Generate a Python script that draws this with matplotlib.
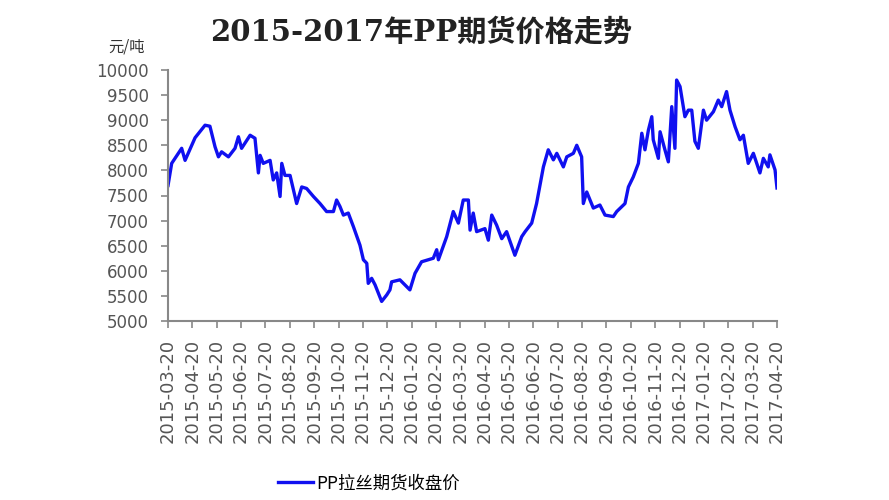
import matplotlib
matplotlib.use('Agg')
import matplotlib.pyplot as plt

plt.rcParams['font.family'] = ['Noto Sans CJK SC', 'DejaVu Sans']

# month offset from 2015-03-20, closing price (yuan/ton)
months = [0.00, 0.15, 0.56, 0.70, 1.11, 1.52, 1.72, 1.93, 2.07, 2.20,
          2.48, 2.75, 2.89, 3.02, 3.37, 3.57, 3.71, 3.78, 3.91, 4.19,
          4.32, 4.46, 4.60, 4.67, 4.80, 5.01, 5.28, 5.49, 5.69, 5.97,
          6.24, 6.51, 6.79, 6.92, 7.06, 7.20, 7.40, 7.61, 7.88, 8.02,
          8.16, 8.22, 8.36, 8.50, 8.77, 8.98, 9.11, 9.18, 9.52, 9.93,
          10.14, 10.41, 10.89, 11.03, 11.10, 11.44, 11.71, 11.92, 12.12, 12.33,
          12.40, 12.53, 12.67, 13.01, 13.15, 13.29, 13.49, 13.70, 13.90, 14.24,
          14.52, 14.66, 14.93, 15.13, 15.41, 15.61, 15.82, 15.96, 16.23, 16.37,
          16.64, 16.78, 16.98, 17.05, 17.19, 17.46, 17.73, 17.94, 18.28, 18.42,
          18.76, 18.90, 19.10, 19.31, 19.45, 19.58, 19.72, 19.86, 19.92, 20.13,
          20.20, 20.40, 20.54, 20.68, 20.81, 20.88, 21.02, 21.22, 21.36, 21.50,
          21.63, 21.77, 21.98, 22.11, 22.39, 22.59, 22.73, 22.93, 23.07, 23.28,
          23.48, 23.62, 23.82, 24.03, 24.30, 24.44, 24.64, 24.71, 24.92, 25.00]
price = [7700, 8140, 8440, 8200, 8650, 8900, 8880, 8470, 8270, 8370,
         8270, 8440, 8670, 8440, 8700, 8640, 7950, 8300, 8140, 8200,
         7810, 7950, 7480, 8140, 7900, 7900, 7340, 7670, 7640, 7480,
         7340, 7180, 7180, 7410, 7280, 7110, 7150, 6880, 6510, 6220,
         6150, 5750, 5850, 5720, 5390, 5520, 5620, 5780, 5820, 5620,
         5950, 6180, 6250, 6420, 6220, 6680, 7180, 6950, 7410, 7410,
         6810, 7150, 6780, 6840, 6610, 7110, 6910, 6640, 6780, 6310,
         6680, 6780, 6950, 7340, 8070, 8410, 8210, 8340, 8070, 8270,
         8340, 8500, 8270, 7340, 7570, 7250, 7310, 7110, 7080, 7180,
         7340, 7670, 7870, 8140, 8740, 8410, 8800, 9070, 8610, 8240,
         8770, 8410, 8170, 9270, 8440, 9800, 9670, 9070, 9200, 9200,
         8580, 8440, 9200, 9000, 9170, 9400, 9270, 9570, 9200, 8870,
         8610, 8700, 8140, 8340, 7950, 8240, 8070, 8310, 8010, 7650]

tick_labels = ['2015-03-20', '2015-04-20', '2015-05-20', '2015-06-20', '2015-07-20',
               '2015-08-20', '2015-09-20', '2015-10-20', '2015-11-20', '2015-12-20',
               '2016-01-20', '2016-02-20', '2016-03-20', '2016-04-20', '2016-05-20',
               '2016-06-20', '2016-07-20', '2016-08-20', '2016-09-20', '2016-10-20',
               '2016-11-20', '2016-12-20', '2017-01-20', '2017-02-20', '2017-03-20',
               '2017-04-20']
yticks = list(range(5000, 10001, 500))

fig = plt.figure(figsize=(8.89, 5.0), dpi=100)
ax = fig.add_axes([0.189, 0.358, 0.685, 0.502])

line, = ax.plot(months, price, color='#1010f0', linewidth=2.4, label='PP拉丝期货收盘价')

ax.set_xlim(0, 25)
ax.set_ylim(5000, 10000)
ax.set_xticks(range(len(tick_labels)))
ax.set_xticklabels(tick_labels, rotation=90, fontsize=13, color='#555555',
                   family='DejaVu Sans')
ax.set_yticks(yticks)
ax.set_yticklabels([str(v) for v in yticks], fontsize=12, color='#555555',
                   family='DejaVu Sans')

for s in ['top', 'right']:
    ax.spines[s].set_visible(False)
for s in ['left', 'bottom']:
    ax.spines[s].set_color('#888888')
    ax.spines[s].set_linewidth(1.5)
ax.tick_params(axis='both', direction='out', length=5, width=1.2, color='#888888')
ax.tick_params(axis='x', pad=8)
ax.tick_params(axis='y', pad=9)

fig.text(0.474, 0.935, '2015-2017年PP期货价格走势', ha='center', va='center',
         fontsize=21, fontweight='bold', color='#222222',
         family=['DejaVu Serif', 'Noto Sans CJK SC'])
fig.text(0.142, 0.905, '元/吨', ha='center', va='center', fontsize=11, color='#333333')

fig.legend(handles=[line], loc='center', bbox_to_anchor=(0.415, 0.033), frameon=False,
           handlelength=2.0, handletextpad=0.2,
           prop={'family': ['Noto Sans CJK SC', 'DejaVu Sans'], 'size': 12.5})

plt.savefig('out.png', dpi=100)
